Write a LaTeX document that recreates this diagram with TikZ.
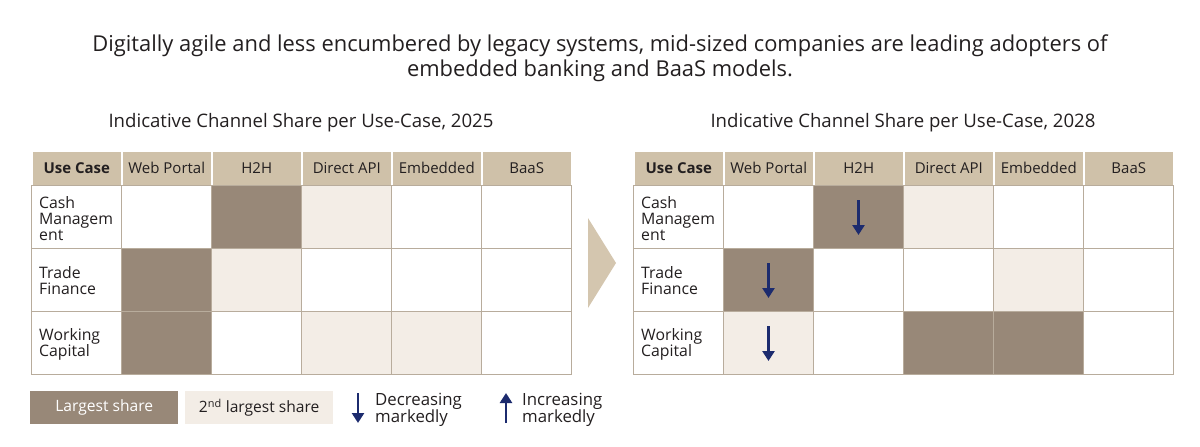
\documentclass[tikz,border=0pt]{standalone}
\usepackage{fontspec}
\setmainfont{Open Sans}
\usetikzlibrary{arrows.meta}
\definecolor{hdrc}{HTML}{CFC1A9}
\definecolor{darkc}{HTML}{988878}
\definecolor{lightc}{HTML}{F3EDE6}
\definecolor{gridc}{HTML}{B8AC9C}
\definecolor{navyc}{HTML}{1C2B6E}
\definecolor{chevc}{HTML}{D4C6AF}
\definecolor{txtc}{HTML}{231F20}
\begin{document}
\begin{tikzpicture}[x=1pt,y=-1pt,
  every node/.style={text=txtc},
  bodycell/.style={draw=gridc, line width=1pt, fill=white, minimum width=90pt, minimum height=63pt, inner sep=0pt, anchor=north west},
  hdrcell/.style={draw=white, line width=1.5pt, fill=hdrc, minimum width=90pt, minimum height=35pt, inner sep=0pt, anchor=north west, font=\fontsize{15}{16}\selectfont},
  dark/.style={fill=darkc},
  light/.style={fill=lightc},
  rowlab/.style={anchor=west, align=left, inner sep=0pt, font=\fontsize{15.8}{16}\selectfont},
  chg/.style={draw=navyc, line width=2.6pt, -{Triangle[length=10pt,width=12pt]}},
  legbox/.style={minimum width=148pt, minimum height=33pt, inner sep=0pt, anchor=north west, font=\fontsize{15.6}{17}\selectfont},
  legtxt/.style={anchor=west, align=left, inner sep=0pt, font=\fontsize{16.8}{17}\selectfont},
  ttl/.style={font=\fontsize{18.6}{20}\selectfont}
]
\useasboundingbox (0,0) rectangle (1200,447);

% title
\node[align=center, font=\fontsize{21.9}{25}\selectfont] (title) at (600,58.5)
  {Digitally agile and less encumbered by legacy systems, mid-sized companies are leading adopters of\\embedded banking and BaaS models.};

\node[ttl] (subL) at (301,123) {Indicative Channel Share per Use-Case, 2025};
\node[ttl] (subR) at (903,123) {Indicative Channel Share per Use-Case, 2028};

% tables
\foreach \T/\xo in {L/31, R/633} {
  \foreach \c/\lab in {0/{\textbf{Use Case}}, 1/Web Portal, 2/H2H, 3/Direct API, 4/Embedded, 5/BaaS} {
    \node[hdrcell] (\T-0-\c) at (\xo+90*\c,150) {\lab};
  }
  \foreach \r in {1,2,3} {
    \foreach \c in {0,...,5} {
      \node[bodycell] (\T-\r-\c) at (\xo+90*\c,185+63*\r-63) {};
    }
  }
}

% shading 2025
\node[bodycell,dark]  at (L-1-2.north west) {};
\node[bodycell,light] at (L-1-3.north west) {};
\node[bodycell,dark]  at (L-2-1.north west) {};
\node[bodycell,light] at (L-2-2.north west) {};
\node[bodycell,dark]  at (L-3-1.north west) {};
\node[bodycell,light] at (L-3-3.north west) {};
\node[bodycell,light] at (L-3-4.north west) {};
% shading 2028
\node[bodycell,dark]  at (R-1-2.north west) {};
\node[bodycell,light] at (R-1-3.north west) {};
\node[bodycell,dark]  at (R-2-1.north west) {};
\node[bodycell,light] at (R-2-4.north west) {};
\node[bodycell,light] at (R-3-1.north west) {};
\node[bodycell,dark]  at (R-3-3.north west) {};
\node[bodycell,dark]  at (R-3-4.north west) {};

% row labels
\foreach \T in {L,R} {
  \node[rowlab] (\T-lab1) at ([xshift=8pt,yshift=-1.5pt]\T-1-0.west) {Cash\\Managem\\ent};
  \node[rowlab] (\T-lab2) at ([xshift=8pt,yshift=-1pt]\T-2-0.west) {Trade\\Finance};
  \node[rowlab] (\T-lab3) at ([xshift=8pt,yshift=-1pt]\T-3-0.west) {Working\\Capital};
}

% change arrows
\draw[chg] ([yshift=17pt]R-1-2.center) -- ([yshift=-18pt]R-1-2.center);
\draw[chg] ([yshift=17pt]R-2-1.center) -- ([yshift=-18pt]R-2-1.center);
\draw[chg] ([yshift=17pt]R-3-1.center) -- ([yshift=-18pt]R-3-1.center);

% chevron
\fill[chevc] (588,218) -- (616,263) -- (588,308) -- cycle;

% legend
\node[legbox, fill=darkc, text=white] (legA) at (30,391) {Largest share};
\node[legbox, fill=lightc] (legB) at (185,391) {2\textsuperscript{nd} largest share};
\coordinate (dTop) at (358,393);
\coordinate (dBot) at (358,423);
\draw[chg] (dTop) -- (dBot);
\node[legtxt] (legD) at (375,410) {Decreasing\\markedly};
\coordinate (uTop) at (506,393);
\coordinate (uBot) at (506,423);
\draw[chg] (uBot) -- (uTop);
\node[legtxt] (legU) at (522,410) {Increasing\\markedly};
\end{tikzpicture}
\end{document}
